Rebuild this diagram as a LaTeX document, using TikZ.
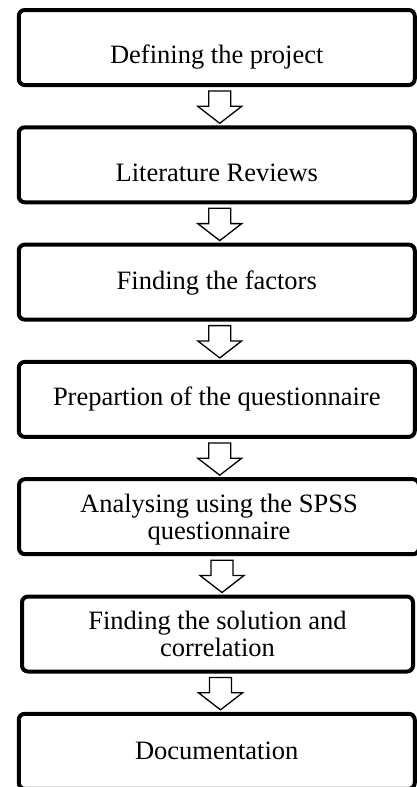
\documentclass[tikz,border=0pt]{standalone}
\usepackage{fontspec}
\setmainfont{Liberation Serif}
\usepackage{tikz}
\usetikzlibrary{calc}
\usetikzlibrary{positioning}

\begin{document}
\begin{tikzpicture}[
     mystepbox/.style={rectangle, draw, line width=4pt, rounded corners=6pt, minimum height=75pt, fill=white},
     mysteptext/.style={align=center, inner sep=0pt, font=\fontsize{26.5pt}{27.5pt}\selectfont},  % one text node on top of every box
     myblockarrow/.style={draw, fill=white, line width=1.3pt, line join=miter,
         to path={let \p1=($(\tikztostart)+(3pt,-4pt)$), \p2=($(\tikztotarget)+(0pt,2pt)$) in
             (\x1-11pt,\y1) -- (\x1+11pt,\y1) -- (\x1+11pt,\y2+17pt) -- (\x1+22pt,\y2+17pt)
             -- (\x1,\y2) -- (\x1-22pt,\y2+17pt) -- (\x1-11pt,\y2+17pt) -- cycle}}
 ]
 \useasboundingbox (0,0) rectangle (417pt,-787pt);

 % steps: text / width / shift right / text shift
 \coordinate (box0) at (216.75pt,30.3pt);
 \foreach \txt/\boxw/\shiftx/\shifty [count=\x] in {
     Defining the project/396pt/0pt/-9.5pt,
     Literature Reviews/396pt/0pt/-8.5pt,
     Finding the factors/396pt/0pt/-1pt,
     Prepartion of the questionnaire/396pt/0pt/0pt,
     Analysing using the SPSS\\questionnaire/400pt/2.25pt/-3pt,
     Finding the solution and\\correlation/391pt/-1.5pt/0pt,
     Documentation/396pt/-0.75pt/0pt
 }{
     \pgfmathtruncatemacro{\prevx}{\x-1}

     \node[mystepbox, minimum width=\boxw, below=38.3pt of box\prevx, xshift=\shiftx] (box\x) {};
     \node[mysteptext, yshift=\shifty] (text\x) at (box\x.center) {\txt};
 }

 % hollow arrows between the steps
 \foreach \i [count=\j from 2] in {1,...,6} {
     \draw[myblockarrow] (box\i.south) to (box\j.north);
 }
\end{tikzpicture}
\end{document}
